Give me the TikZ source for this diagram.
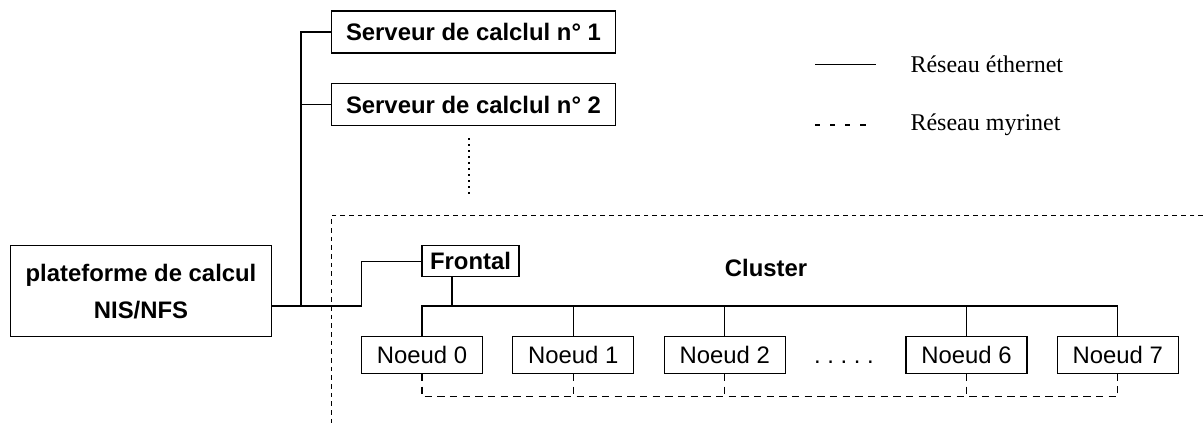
\documentclass[tikz,border=0pt]{standalone}
\usepackage{fontspec}
\setmainfont{Liberation Sans}
\newfontfamily\legendfont{Liberation Serif}
\begin{document}
\begin{tikzpicture}[x=0.75pt,y=-0.75pt,
  every path/.style={line width=0.8pt},
  bbox/.style={draw, line width=0.8pt, inner sep=0pt, align=center,
    font=\bfseries\fontsize{17.9}{27.5}\selectfont},
  nbox/.style={draw, line width=0.8pt, inner sep=0pt, minimum width=90.75pt,
    minimum height=27.5pt, font=\fontsize{17.9}{21}\selectfont},
  lgd/.style={anchor=west, inner sep=0pt, font=\legendfont\fontsize{18}{21}\selectfont},
  myri/.style={dash pattern=on 5.5pt off 4pt},
  clus/.style={dash pattern=on 3.5pt off 3pt}]
\useasboundingbox (0,0) rectangle (1203,423);

% boxes
\node[bbox, minimum width=213pt, minimum height=31.5pt] (s1) at (473.5,32) {Serveur de calclul n° 1};
\node[bbox, minimum width=213pt, minimum height=31.5pt] (s2) at (473.5,104.5) {Serveur de calclul n° 2};
\node[bbox, minimum width=195.3pt, minimum height=68pt] (pf) at (141,291.3) {plateforme de calcul\\NIS/NFS};
\node[bbox, minimum width=72.75pt, minimum height=23pt] (fr) at (470.5,261.3) {Frontal};
\node[inner sep=0pt, font=\bfseries\fontsize{17.9}{21}\selectfont] (cl) at (766,268) {Cluster};

\node[nbox] (n0) at (422,355) {Noeud 0};
\node[nbox] (n1) at (573.2,355) {Noeud 1};
\node[nbox] (n2) at (724.7,355) {Noeud 2};
\node[nbox] (n6) at (966.5,355) {Noeud 6};
\node[nbox] (n7) at (1117.8,355) {Noeud 7};
\node[inner sep=0pt, font=\fontsize{17.9}{21}\selectfont] (dots) at (844,362) {.\ .\ .\ .\ .};

% dotted continuation
\coordinate (dt1) at (469.4,138.3);
\coordinate (dt2) at (469.4,196);
\draw[line width=1.5pt, dash pattern=on 1.5pt off 3pt] (dt1) -- (dt2);

% ethernet
\coordinate (j) at (301,306);
\coordinate (k) at (361.6,306);
\draw (pf.east |- j) -- (j) -- (k) -- (k |- fr.west) -- (fr.west);
\draw (j) |- (s1.west);
\draw (j |- s2.west) -- (s2.west);
\coordinate (fd) at (452,306);
\draw (fd |- fr.south) -- (fd);
\coordinate (bus) at (0,306);
\draw (n0.north) -- (n0 |- bus) -- (n7 |- bus) -- (n7.north);
\foreach \n in {n1,n2,n6} \draw (\n.north) -- (\n |- bus);

% myrinet
\coordinate (mb) at (0,396.7);
\draw[myri] (n0.south) -- (n0 |- mb) -- (n7 |- mb) -- (n7.south);
\foreach \n in {n1,n2,n6} \draw[myri] (\n.south) -- (\n |- mb);

% cluster frame
\coordinate (c1) at (1203,215.7);
\coordinate (c2) at (331.4,215.7);
\coordinate (c3) at (331.4,423);
\draw[clus] (c1) -- (c2) -- (c3);

% legend
\coordinate (l1a) at (815,64.3);
\coordinate (l1b) at (876,64.3);
\coordinate (l2a) at (815,125);
\coordinate (l2b) at (873,125);
\draw (l1a) -- (l1b);
\draw[dash pattern=on 4pt off 7.3pt] (l2a) -- (l2b);
\node[lgd] (le) at (910,64.3) {Réseau éthernet};
\node[lgd] (lm) at (910,125) {Réseau myrinet};
\end{tikzpicture}
\end{document}
